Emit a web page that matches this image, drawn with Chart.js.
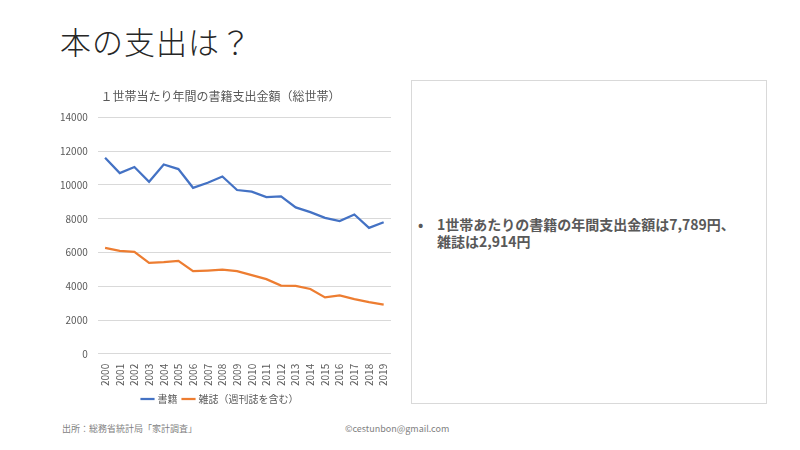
<!DOCTYPE html>
<html>
<head>
<meta charset="utf-8">
<script src="https://cdn.jsdelivr.net/npm/chart.js@4"></script>
<style>
  html,body{margin:0;padding:0;background:#fff;width:800px;height:450px;overflow:hidden;font-family:"Noto Sans CJK JP","Noto Sans",sans-serif;}
  #title{position:absolute;left:60px;top:18px;font-size:31px;font-weight:300;color:#262626;letter-spacing:1px;}
  #wrap{position:absolute;left:50px;top:80px;width:350px;height:334px;}
  #box{position:absolute;left:411px;top:80px;width:356px;height:324px;border:1px solid #d9d9d9;box-sizing:border-box;}
  #txt{position:absolute;left:418px;top:216px;font-size:14px;font-weight:bold;color:#595959;line-height:17px;}
  #txt .b{position:absolute;left:0;top:0;}
  #txt .t{margin-left:19px;display:block;}
  .foot{position:absolute;top:422px;font-size:9px;color:#7f7f7f;}
</style>
</head>
<body>
<div id="title">本の支出は？</div>
<div id="wrap"><canvas id="c" width="350" height="334"></canvas></div>
<div id="box"></div>
<div id="txt"><span class="b">•</span><span class="t">1世帯あたりの書籍の年間支出金額は7,789円、<br>雑誌は2,914円</span></div>
<div class="foot" style="left:62px;">出所：総務省統計局「家計調査」</div>
<div class="foot" style="left:345px;">©cestunbon@gmail.com</div>
<script>
const years = ["2000","2001","2002","2003","2004","2005","2006","2007","2008","2009","2010","2011","2012","2013","2014","2015","2016","2017","2018","2019"];
const books = [11610,10700,11060,10190,11210,10940,9830,10130,10500,9700,9600,9280,9320,8670,8390,8050,7860,8250,7460,7789];
const magazines = [6270,6100,6040,5390,5430,5500,4890,4930,4980,4900,4660,4420,4040,4020,3840,3340,3460,3240,3060,2914];
const yTicks = [0,2000,4000,6000,8000,10000,12000,14000];

new Chart(document.getElementById('c'), {
  type: 'line',
  data: {
    labels: years,
    datasets: [
      {label:'書籍', data: books, borderColor:'#4472C4', backgroundColor:'#4472C4', borderWidth:2.25, pointRadius:0, tension:0},
      {label:'雑誌（週刊誌を含む）', data: magazines, borderColor:'#ED7D31', backgroundColor:'#ED7D31', borderWidth:2.25, pointRadius:0, tension:0}
    ]
  },
  options: {
    responsive:false, animation:false,
    layout:{padding:{left:0,right:9,top:0,bottom:0}},
    plugins:{
      title:{display:true, text:'１世帯当たり年間の書籍支出金額（総世帯）', color:'#595959', font:{family:'"Noto Sans CJK JP"', size:12, weight:'normal'}, padding:{top:9,bottom:14}},
      legend:{position:'bottom', labels:{usePointStyle:true, pointStyle:'line', boxWidth:22, color:'#595959', font:{family:'"Noto Sans CJK JP"', size:10}, padding:6}},
      tooltip:{enabled:false}
    },
    scales:{
      x:{offset:true, grid:{display:false}, border:{display:false},
         ticks:{color:'#595959', font:{family:'"Noto Sans CJK JP"', size:10}, minRotation:90, maxRotation:90, autoSkip:false, padding:2}},
      y:{min:0, max:14000, grid:{color:'#d9d9d9', drawTicks:false}, border:{display:false},
         afterBuildTicks:(ax)=>{ax.ticks = yTicks.map(v=>({value:v}));},
         ticks:{color:'#595959', font:{family:'"Noto Sans CJK JP"', size:10}, padding:10, callback:(v)=>String(v)}}
    }
  }
});
</script>
</body>
</html>
